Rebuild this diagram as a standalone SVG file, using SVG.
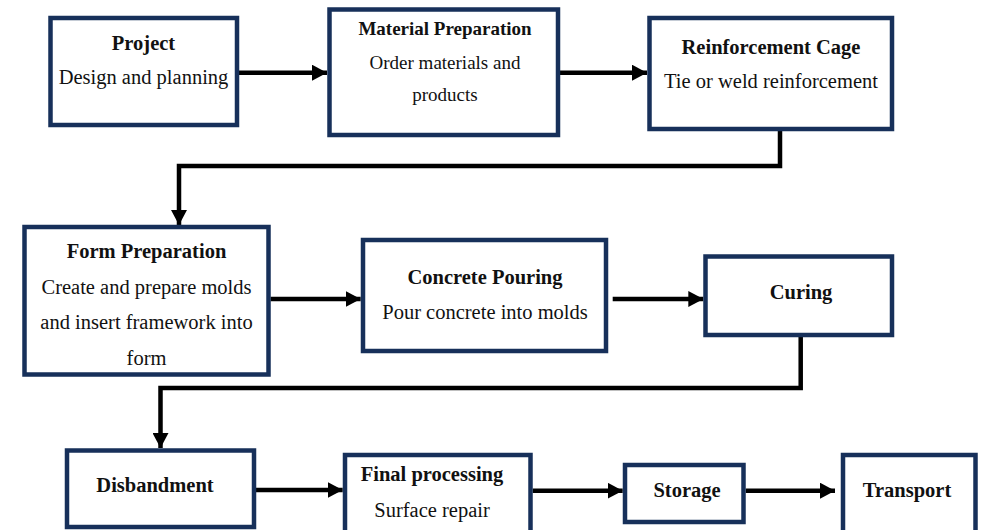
<svg xmlns="http://www.w3.org/2000/svg" width="982" height="530" viewBox="0 0 982 530">
<style>
.box{fill:#fff;stroke:#17305a;stroke-width:4.5}
.t{font-family:"Liberation Serif","Times New Roman",serif;font-size:20.5px;fill:#111;text-anchor:middle}
.b{font-weight:bold}
.s{font-size:19px}
.c{fill:none;stroke:#000;stroke-width:4.5;marker-end:url(#ah)}
</style>
<defs>
<marker id="ah" markerUnits="userSpaceOnUse" markerWidth="15" markerHeight="16" refX="15" refY="8" orient="auto">
<path d="M0,0 L15,8 L0,16 Z" fill="#000"/>
</marker>
</defs>
<rect width="982" height="530" fill="#fff"/>
<g id="connectors">
<path class="c" d="M239,72.7 H327"/>
<path class="c" d="M560,72.7 H647"/>
<path class="c" d="M780,131 V166 H179 V225"/>
<path class="c" d="M270.5,299 H360.7"/>
<path class="c" d="M612.7,299 H703.3"/>
<path class="c" d="M800.7,337 V388 H160.5 V448"/>
<path class="c" d="M256,490 H342.7"/>
<path class="c" d="M532.7,490.7 H622.7"/>
<path class="c" d="M745.7,490.7 H835"/>
</g>
<g id="project">
<rect class="box" x="50.5" y="18" width="186.5" height="107"/>
<text class="t b" x="143.5" y="50">Project</text>
<text class="t" x="143.5" y="84">Design and planning</text>
</g>
<g id="material-preparation">
<rect class="box" x="329.5" y="9.5" width="228.5" height="125.5"/>
<text class="t b s" x="445" y="35">Material Preparation</text>
<text class="t s" x="445" y="68.5">Order materials and</text>
<text class="t s" x="445" y="101">products</text>
</g>
<g id="reinforcement-cage">
<rect class="box" x="649.5" y="18" width="242.5" height="111"/>
<text class="t b" x="771" y="54">Reinforcement Cage</text>
<text class="t" x="771" y="88.3">Tie or weld reinforcement</text>
</g>
<g id="form-preparation">
<rect class="box" x="24.5" y="227" width="244" height="147.5"/>
<text class="t b" x="146.5" y="258.3">Form Preparation</text>
<text class="t" x="146.5" y="294">Create and prepare molds</text>
<text class="t" x="146.5" y="329">and insert framework into</text>
<text class="t" x="146.5" y="365">form</text>
</g>
<g id="concrete-pouring">
<rect class="box" x="363" y="240" width="243" height="111"/>
<text class="t b" x="485" y="284">Concrete Pouring</text>
<text class="t" x="485" y="319.3">Pour concrete into molds</text>
</g>
<g id="curing">
<rect class="box" x="705.5" y="256.5" width="186.5" height="78.5"/>
<text class="t b" x="801" y="299">Curing</text>
</g>
<g id="disbandment">
<rect class="box" x="67" y="450.5" width="187" height="76.5"/>
<text class="t b" x="155" y="492.3">Disbandment</text>
</g>
<g id="final-processing">
<rect class="box" x="345" y="455" width="185.5" height="85"/>
<text class="t b" x="432" y="480.7">Final processing</text>
<text class="t" x="432" y="516.7">Surface repair</text>
</g>
<g id="storage">
<rect class="box" x="625" y="465" width="118.5" height="57"/>
<text class="t b" x="687" y="496.7">Storage</text>
</g>
<g id="transport">
<rect class="box" x="843" y="455" width="132.5" height="85"/>
<text class="t b" x="907" y="496.7">Transport</text>
</g>
</svg>
